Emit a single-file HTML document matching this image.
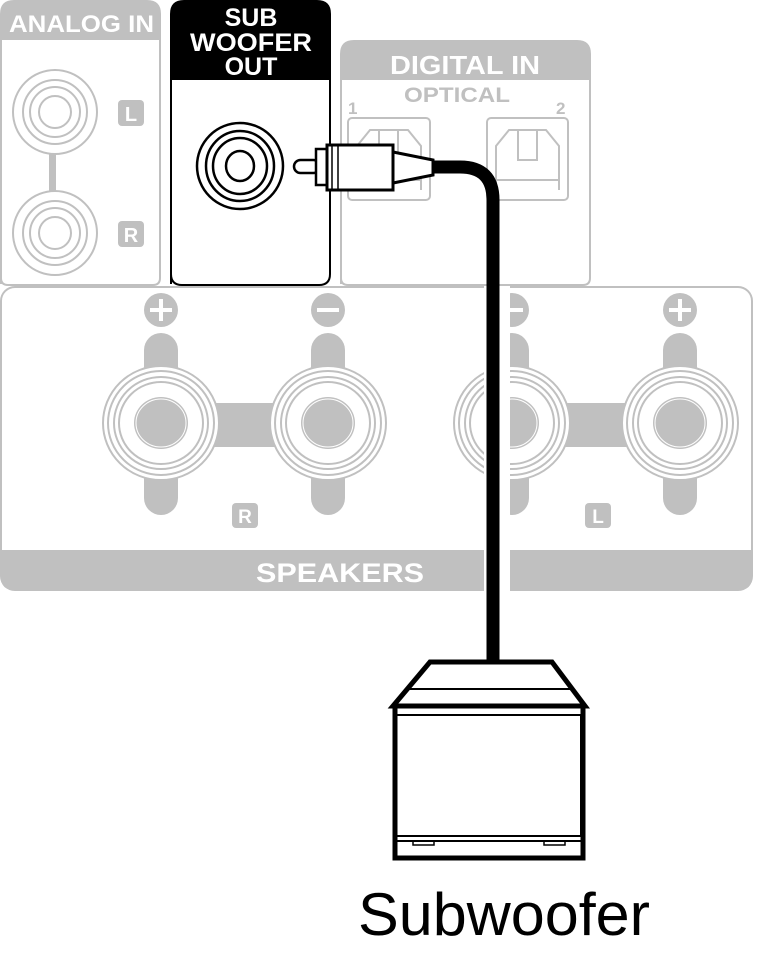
<!DOCTYPE html>
<html><head><style>html,body{margin:0;padding:0;background:#fff}svg{display:block}</style></head>
<body>
<svg width="775" height="971" viewBox="0 0 775 971" xmlns="http://www.w3.org/2000/svg" font-family="Liberation Sans, sans-serif">
<defs>
<g id="term">
  <rect x="-17" y="-90" width="34" height="60" rx="17" fill="#c0c0c0"/>
  <rect x="-17" y="30" width="34" height="62" rx="17" fill="#c0c0c0"/>
  <ellipse cx="0" cy="0" rx="58" ry="57" fill="#fff" stroke="#c0c0c0" stroke-width="2"/>
  <ellipse cx="0" cy="0" rx="53" ry="52" fill="none" stroke="#c0c0c0" stroke-width="2"/>
  <ellipse cx="0" cy="0" rx="47" ry="46" fill="none" stroke="#c0c0c0" stroke-width="2"/>
  <ellipse cx="0" cy="0" rx="42" ry="41" fill="none" stroke="#c0c0c0" stroke-width="2"/>
  <ellipse cx="0" cy="0" rx="27" ry="26" fill="#c0c0c0"/>
  <ellipse cx="0" cy="0" rx="25" ry="24" fill="none" stroke="#fff" stroke-width="1"/>
</g>
</defs>
<!-- ANALOG IN -->
<path d="M1,284 V14 Q1,1 14,1 H147 Q160,1 160,14 V278 Q160,285 153,285 H8 Q1,285 1,278Z" fill="#fff" stroke="#c0c0c0" stroke-width="2"/>
<path d="M1,40 V14 Q1,1 14,1 H147 Q160,1 160,14 V40Z" fill="#c0c0c0"/>
<text x="9" y="32" font-size="24" font-weight="bold" fill="#fff" textLength="145" lengthAdjust="spacingAndGlyphs">ANALOG IN</text>
<rect x="49" y="150" width="7" height="45" fill="#c0c0c0"/>
<g fill="#fff" stroke="#c0c0c0" stroke-width="2">
<circle cx="55" cy="112" r="42"/><circle cx="55" cy="112" r="32"/><circle cx="55" cy="112" r="25"/><circle cx="55" cy="112" r="16"/>
<circle cx="55" cy="233" r="42"/><circle cx="55" cy="233" r="32"/><circle cx="55" cy="233" r="25"/><circle cx="55" cy="233" r="16"/>
</g>
<rect x="118" y="100" width="26" height="26" rx="4" fill="#c0c0c0"/>
<text x="131" y="121" text-anchor="middle" font-size="20" font-weight="bold" fill="#fff">L</text>
<rect x="118" y="221" width="26" height="26" rx="4" fill="#c0c0c0"/>
<text x="131" y="242" text-anchor="middle" font-size="20" font-weight="bold" fill="#fff">R</text>
<!-- SUB WOOFER OUT -->
<path d="M171,284 V14 Q171,1 184,1 H317 Q330,1 330,14 V274 Q330,285 319,285 H182 Q171,285 171,274Z" fill="#fff" stroke="#000" stroke-width="2"/>
<path d="M171,80 V14 Q171,1 184,1 H317 Q330,1 330,14 V80Z" fill="#000"/>
<g font-size="25" font-weight="bold" fill="#fff" text-anchor="middle">
<text x="251" y="26">SUB</text><text x="251" y="51" textLength="122" lengthAdjust="spacingAndGlyphs">WOOFER</text><text x="251" y="75">OUT</text></g>
<g fill="none" stroke="#000" stroke-width="2.5">
<ellipse cx="240" cy="166" rx="43" ry="43"/><ellipse cx="240" cy="166" rx="34" ry="35"/><ellipse cx="240" cy="166" rx="27" ry="28"/><ellipse cx="240" cy="166" rx="14" ry="15"/></g>
<!-- DIGITAL IN -->
<path d="M341,284 V54 Q341,41 354,41 H577 Q590,41 590,54 V278 Q590,285 583,285 H348 Q341,285 341,278Z" fill="#fff" stroke="#c0c0c0" stroke-width="2"/>
<path d="M341,80 V54 Q341,41 354,41 H577 Q590,41 590,54 V80Z" fill="#c0c0c0"/>
<text x="465" y="74" text-anchor="middle" font-size="26" font-weight="bold" fill="#fff" textLength="150" lengthAdjust="spacingAndGlyphs">DIGITAL IN</text>
<text x="457" y="102" text-anchor="middle" font-size="21" font-weight="bold" fill="#c0c0c0" textLength="106" lengthAdjust="spacingAndGlyphs">OPTICAL</text>
<text x="348" y="114" font-size="17" font-weight="bold" fill="#c0c0c0">1</text>
<text x="556" y="114" font-size="17" font-weight="bold" fill="#c0c0c0">2</text>
<g fill="none" stroke="#c0c0c0" stroke-width="2">
<rect x="348" y="118" width="82" height="82" rx="4"/>
<path d="M357,190 V146 L370,130 H408 L421,146 V190 M357,180 H421 M379,130 V160 H398 V130"/>
<rect x="487" y="118" width="81" height="82" rx="4"/>
<path d="M496,190 V146 L509,130 H546 L559,146 V190 M496,180 H559 M518,130 V160 H537 V130"/>
</g>
<!-- SPEAKERS -->
<rect x="1" y="287" width="751" height="303" rx="14" fill="#fff" stroke="#c0c0c0" stroke-width="2"/>
<path d="M1,550 H752 V577 Q752,590 739,590 H14 Q1,590 1,577Z" fill="#c0c0c0"/>
<text x="340" y="582" text-anchor="middle" font-size="27" font-weight="bold" fill="#fff" textLength="168" lengthAdjust="spacingAndGlyphs">SPEAKERS</text>
<rect x="212" y="403" width="64" height="44" fill="#c0c0c0"/>
<rect x="550" y="403" width="80" height="44" fill="#c0c0c0"/>
<use href="#term" x="161" y="423"/><use href="#term" x="328" y="423"/>
<use href="#term" x="512" y="423"/><use href="#term" x="680" y="423"/>
<g fill="#c0c0c0"><ellipse cx="161" cy="310" rx="17" ry="17"/><ellipse cx="328" cy="310" rx="17" ry="17"/><ellipse cx="512" cy="310" rx="17" ry="17"/><ellipse cx="680" cy="310" rx="17" ry="17"/></g>
<g stroke="#fff" stroke-width="4"><path d="M150,310 H172 M161,299 V321 M317,310 H339 M501,310 H523 M669,310 H691 M680,299 V321"/></g>
<rect x="232" y="503" width="26" height="25" rx="4" fill="#c0c0c0"/>
<text x="245" y="523" text-anchor="middle" font-size="19" font-weight="bold" fill="#fff">R</text>
<rect x="585" y="503" width="26" height="25" rx="4" fill="#c0c0c0"/>
<text x="598" y="523" text-anchor="middle" font-size="19" font-weight="bold" fill="#fff">L</text>
<rect x="484" y="286" width="26" height="306" fill="#fff"/>
<!-- cable -->
<path d="M430,167 H460 Q493,167 493,200 V665" fill="none" stroke="#000" stroke-width="13"/>
<rect x="294" y="160" width="26" height="13" rx="6.5" fill="#fff" stroke="#000" stroke-width="2.5"/>
<rect x="316" y="149" width="12" height="36" fill="#fff" stroke="#000" stroke-width="2.5"/>
<rect x="327" y="145" width="66" height="45" fill="#fff" stroke="#000" stroke-width="3"/>
<path d="M332,146 V189 M338,146 V189" stroke="#000" stroke-width="1.5"/>
<path d="M393,152 L433,160 V175 L393,183Z" fill="#fff" stroke="#000" stroke-width="3"/>
<!-- subwoofer -->
<path d="M430,662 H552 L585,706 H393Z" fill="#fff" stroke="#000" stroke-width="5"/>
<path d="M405,689 H573" stroke="#000" stroke-width="2"/>
<rect x="395" y="706" width="188" height="152" fill="#fff" stroke="#000" stroke-width="5"/>
<path d="M397,715 H581" stroke="#000" stroke-width="2"/>
<path d="M581,715 V836" stroke="#000" stroke-width="2"/>
<path d="M397,836 H581 M397,841 H581" stroke="#000" stroke-width="2"/>
<path d="M413,841 V845 H434 V841 M544,841 V845 H565 V841" fill="none" stroke="#000" stroke-width="1.5"/>
<text x="504" y="935" text-anchor="middle" font-size="60" fill="#000" textLength="292" lengthAdjust="spacingAndGlyphs">Subwoofer</text>
</svg>
</body></html>
